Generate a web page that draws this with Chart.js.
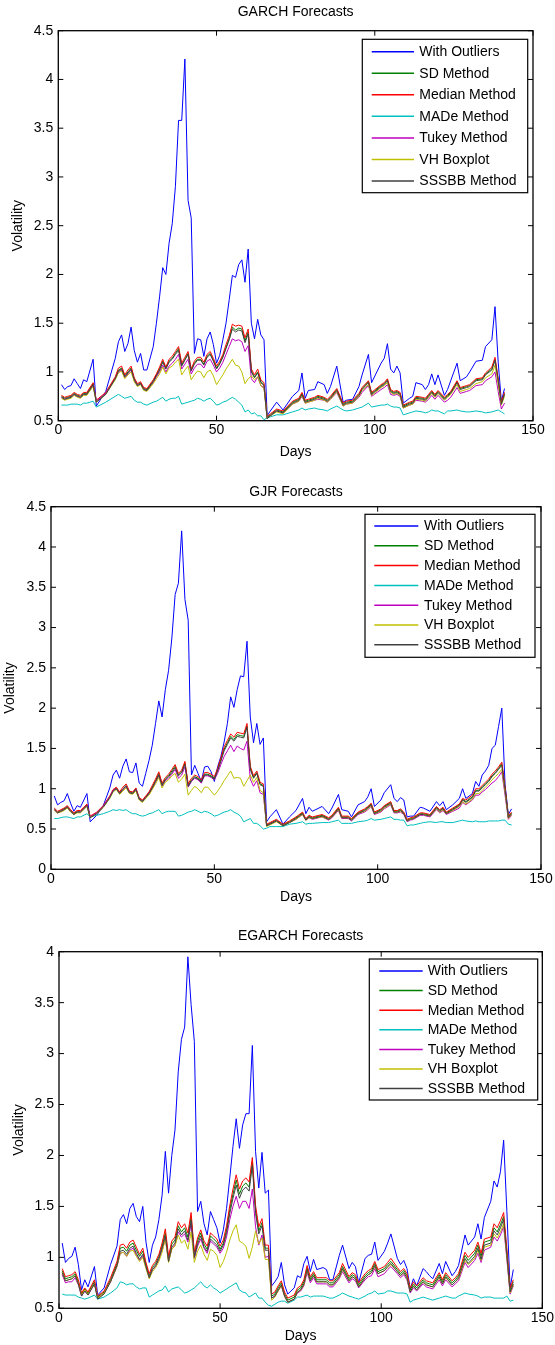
<!DOCTYPE html>
<html>
<head>
<meta charset="utf-8">
<script src="https://cdn.jsdelivr.net/npm/chart.js@4.4.0/dist/chart.umd.min.js"></script>
<style>
body { margin: 0; background: #fff; width: 555px; height: 1345px; position: relative; overflow: hidden; }
.panel { position: absolute; left: 0; width: 555px; }
</style>
</head>
<body>
<div class="panel" style="top:0;height:462px"><canvas id="garch"></canvas></div>
<div class="panel" style="top:462px;height:446px"><canvas id="gjr"></canvas></div>
<div class="panel" style="top:908px;height:437px"><canvas id="egarch"></canvas></div>
<script>
var seriesNames = ["With Outliers", "SD Method", "Median Method", "MADe Method", "Tukey Method", "VH Boxplot", "SSSBB Method"];
var seriesColours = ["#0000ff", "#008000", "#ff0000", "#00bfbf", "#bf00bf", "#bfbf00", "#404040"];

// ---- GARCH ----
var garchDays = [1,2,3,4,5,6,7,8,9, 11,12,15, 18,19,20,21,22,23,24,25,26,27,28,
    30,31,32,33,34,35,36,37,38,39, 40,41,42,43,44,45,46,47,48,49, 50,51,52,53,54,55,56,57,58,59,
    60,61,62,63,64,65,66,67, 69,71,74,76,77,78,79, 81,82,84,85,86,88, 90,91,93,95,96,98,99,
    102,103,104,105,106,107,108,109, 111,112,113,115,116,117,118,119,120, 122,123,124,126,127,129,130,
    132,134,135,137,138,139,140,141];
var garchOutliers = [0.87,0.82,0.85,0.86,0.93,0.88,0.83,0.92,0.90, 1.13,0.65,0.80,
    1.14,1.31,1.38,1.21,1.29,1.46,1.22,1.10,1.19,1.02,1.02,
    1.26,1.50,1.77,2.07,2.00,2.32,2.52,2.90,3.58,3.58, 4.21,2.76,2.58,1.19,1.34,1.33,1.16,1.34,1.41,1.28,
    1.09,1.17,1.33,1.50,1.74,1.99,1.97,2.10,2.15,1.92, 2.26,1.50,1.34,1.54,1.38,1.33,0.55,0.60,
    0.69,0.61,0.75,0.81,0.99,0.73,0.81, 0.82,0.90,0.87,0.78,0.85,1.06, 0.69,0.71,0.72,0.85,0.97,1.18,0.89,
    1.09,1.14,1.29,1.03,0.99,1.06,0.99,0.68, 0.73,0.75,0.89,0.87,0.82,0.87,0.98,0.87,0.97,
    0.76,0.82,0.91,1.09,0.91,0.95,1.00, 1.11,1.12,1.26,1.33,1.67,1.10,0.70,0.83];
var garchSD = [0.75,0.73,0.74,0.75,0.78,0.76,0.75,0.78,0.78, 0.88,0.70,0.78,
    0.94,1.02,1.04,0.96,1.00,1.04,0.93,0.87,0.89,0.83,0.82,
    0.91,0.97,1.03,1.11,1.04,1.11,1.14,1.19,1.24,1.07, 1.13,1.19,1.02,1.09,1.13,1.13,1.08,1.16,1.19,1.12,
    1.04,1.09,1.16,1.25,1.34,1.46,1.43,1.45,1.44,1.32, 1.41,1.01,0.95,1.00,0.90,0.87,0.53,0.56,
    0.61,0.59,0.69,0.72,0.78,0.70,0.71, 0.73,0.75,0.73,0.71,0.74,0.82, 0.67,0.69,0.70,0.77,0.83,0.90,0.78,
    0.86,0.88,0.92,0.81,0.79,0.80,0.78,0.65, 0.68,0.69,0.74,0.73,0.72,0.76,0.80,0.76,0.80,
    0.73,0.76,0.79,0.90,0.83,0.85,0.86, 0.92,0.93,0.98,1.03,1.13,0.92,0.68,0.78];
var garchMedian = [0.76,0.74,0.75,0.76,0.79,0.77,0.76,0.79,0.79, 0.89,0.71,0.79,
    0.95,1.04,1.06,0.97,1.02,1.06,0.94,0.88,0.90,0.84,0.83,
    0.92,0.98,1.05,1.13,1.05,1.13,1.16,1.21,1.26,1.09, 1.15,1.21,1.03,1.11,1.15,1.15,1.10,1.18,1.21,1.14,
    1.06,1.11,1.18,1.28,1.37,1.49,1.47,1.48,1.47,1.35, 1.44,1.03,0.97,1.03,0.92,0.89,0.54,0.57,
    0.62,0.60,0.70,0.73,0.79,0.71,0.72, 0.74,0.76,0.74,0.72,0.75,0.83, 0.68,0.70,0.71,0.78,0.84,0.91,0.79,
    0.87,0.89,0.93,0.82,0.80,0.81,0.79,0.66, 0.69,0.70,0.75,0.74,0.73,0.77,0.81,0.77,0.81,
    0.74,0.77,0.80,0.91,0.84,0.86,0.87, 0.93,0.94,0.99,1.05,1.15,0.93,0.69,0.79];
var garchMADe = [0.66,0.66,0.66,0.67,0.67,0.67,0.66,0.68,0.68, 0.70,0.64,0.69,
    0.75,0.77,0.75,0.73,0.74,0.75,0.71,0.69,0.69,0.67,0.66,
    0.69,0.70,0.72,0.74,0.70,0.72,0.73,0.73,0.75,0.67, 0.68,0.69,0.70,0.71,0.73,0.72,0.70,0.72,0.73,0.70,
    0.66,0.67,0.69,0.70,0.72,0.74,0.72,0.69,0.66,0.59, 0.61,0.57,0.58,0.55,0.55,0.51,0.53,0.54,
    0.56,0.56,0.59,0.61,0.63,0.61,0.62, 0.63,0.62,0.61,0.60,0.62,0.65, 0.61,0.60,0.61,0.63,0.64,0.68,0.64,
    0.66,0.66,0.67,0.65,0.64,0.64,0.63,0.56, 0.58,0.59,0.60,0.59,0.58,0.59,0.61,0.60,0.60,
    0.57,0.60,0.60,0.61,0.60,0.59,0.59, 0.60,0.59,0.58,0.59,0.60,0.61,0.59,0.57];
var garchTukey = [0.74,0.72,0.73,0.74,0.77,0.75,0.74,0.77,0.77, 0.86,0.70,0.78,
    0.93,1.00,1.02,0.94,0.98,1.02,0.91,0.86,0.88,0.82,0.81,
    0.89,0.95,1.00,1.07,1.00,1.06,1.09,1.13,1.18,1.03, 1.08,1.13,0.98,1.04,1.08,1.08,1.04,1.11,1.13,1.07,
    1.00,1.04,1.10,1.18,1.26,1.34,1.32,1.33,1.31,1.21, 1.27,0.93,0.89,0.95,0.86,0.84,0.52,0.55,
    0.60,0.58,0.67,0.70,0.75,0.68,0.69, 0.71,0.72,0.71,0.69,0.72,0.79, 0.65,0.67,0.68,0.74,0.79,0.86,0.75,
    0.82,0.84,0.87,0.77,0.76,0.77,0.75,0.63, 0.66,0.67,0.71,0.70,0.69,0.72,0.76,0.72,0.76,
    0.69,0.71,0.74,0.84,0.78,0.80,0.81, 0.86,0.87,0.91,0.95,1.00,0.80,0.62,0.68];
var garchVH = [0.73,0.71,0.72,0.73,0.76,0.74,0.73,0.76,0.76, 0.85,0.69,0.77,
    0.92,0.99,1.01,0.93,0.97,1.00,0.90,0.85,0.87,0.81,0.80,
    0.88,0.93,0.98,1.05,0.98,1.04,1.06,1.10,1.13,0.97, 1.02,1.06,0.92,0.97,1.01,1.00,0.94,1.00,1.02,0.96,
    0.87,0.92,0.97,1.03,1.08,1.13,1.07,1.06,1.00,0.88, 0.93,0.96,0.92,0.95,0.86,0.83,0.52,0.55,
    0.59,0.57,0.67,0.70,0.76,0.68,0.69, 0.71,0.73,0.71,0.69,0.72,0.80, 0.65,0.67,0.68,0.75,0.81,0.87,0.76,
    0.84,0.86,0.89,0.79,0.77,0.78,0.76,0.63, 0.66,0.67,0.72,0.71,0.70,0.74,0.78,0.74,0.78,
    0.71,0.74,0.77,0.87,0.80,0.82,0.83, 0.88,0.90,0.94,0.98,1.07,0.87,0.66,0.75];
var garchSSSBB = [0.74,0.72,0.73,0.74,0.77,0.75,0.74,0.77,0.77, 0.87,0.69,0.77,
    0.93,1.01,1.03,0.95,0.99,1.03,0.92,0.86,0.88,0.82,0.81,
    0.90,0.96,1.02,1.10,1.03,1.10,1.13,1.18,1.22,1.06, 1.12,1.18,1.01,1.08,1.12,1.12,1.07,1.15,1.18,1.11,
    1.03,1.08,1.15,1.24,1.33,1.44,1.41,1.43,1.42,1.30, 1.39,1.00,0.94,0.99,0.89,0.86,0.52,0.55,
    0.60,0.58,0.68,0.71,0.77,0.69,0.70, 0.72,0.74,0.72,0.70,0.73,0.81, 0.66,0.68,0.69,0.76,0.82,0.89,0.77,
    0.85,0.87,0.91,0.80,0.78,0.79,0.77,0.64, 0.67,0.68,0.73,0.72,0.71,0.75,0.79,0.75,0.79,
    0.72,0.75,0.78,0.89,0.82,0.84,0.85, 0.91,0.92,0.97,1.02,1.12,0.91,0.67,0.77];

// ---- GJR ----
var gjrDays = [1,2,3,4,5,6,7,8,9, 11,12,14,16, 18,19,20,21,22,23,24,25,26,27, 28,29,30,31,32,33,34,35,36,37,
    38,39,40,41,42,43,44,45,46,47, 48,49,50,51,52,53,54,55,56,57, 58,59,60,61,62,63,64,65,66,67,
    69,71,73,75,77,78,79,80, 83,85,86,88,89,91,92,94, 96,97,98,99,101,102,104, 105,106,107,108,109,110,111,
    113,114,116,118,119,120,121,123, 125,126,127,129,130,131,132,133, 134,135,136,137,138,139,140,141];
var gjrOutliers = [0.91,0.80,0.83,0.85,0.94,0.82,0.72,0.79,0.77, 0.94,0.59,0.67,0.79,
    1.01,1.17,1.23,1.13,1.28,1.37,1.21,1.20,1.32,1.07, 1.03,1.19,1.35,1.54,1.81,2.09,1.89,2.23,2.47,2.87,
    3.41,3.55,4.20,3.35,3.09,1.17,1.29,1.19,1.09,1.27, 1.28,1.21,1.09,1.27,1.40,1.58,1.81,2.14,2.01,2.23,
    2.40,2.39,2.83,1.89,1.57,1.81,1.55,1.63,0.59,0.65,
    0.74,0.56,0.65,0.73,0.88,0.69,0.77,0.72, 0.78,0.69,0.76,0.93,0.74,0.72,0.65,0.80,
    0.84,0.90,1.00,0.78,0.86,0.95,1.05, 0.88,0.84,0.89,0.86,0.65,0.66,0.66,
    0.77,0.76,0.72,0.84,0.79,0.84,0.74,0.80, 0.88,1.00,0.88,0.94,1.09,1.03,1.17,1.22,
    1.29,1.50,1.54,1.77,2.00,1.05,0.68,0.75];
var gjrSD = [0.75,0.71,0.73,0.75,0.78,0.73,0.69,0.72,0.72, 0.80,0.65,0.70,0.78,
    0.90,0.98,1.01,0.95,1.00,1.04,0.96,0.95,1.00,0.88, 0.85,0.90,0.95,1.02,1.10,1.19,1.05,1.12,1.16,1.22,
    1.28,1.17,1.21,1.32,1.04,1.11,1.15,1.13,1.09,1.18, 1.18,1.16,1.13,1.23,1.36,1.49,1.57,1.65,1.61,1.67,
    1.66,1.65,1.78,1.26,1.14,1.20,1.06,1.04,0.55,0.57,
    0.61,0.55,0.59,0.64,0.70,0.62,0.66,0.64, 0.67,0.63,0.66,0.76,0.65,0.65,0.62,0.70,
    0.74,0.77,0.81,0.70,0.74,0.78,0.83, 0.72,0.72,0.74,0.70,0.61,0.63,0.64,
    0.69,0.69,0.67,0.77,0.73,0.76,0.70,0.75, 0.80,0.87,0.84,0.90,0.98,0.98,1.02,1.06,
    1.10,1.16,1.20,1.25,1.31,1.00,0.65,0.70];
var gjrMedian = [0.76,0.72,0.74,0.76,0.79,0.74,0.70,0.73,0.73, 0.81,0.66,0.71,0.79,
    0.91,0.99,1.02,0.96,1.02,1.06,0.97,0.96,1.01,0.89, 0.86,0.91,0.96,1.04,1.12,1.21,1.07,1.14,1.18,1.24,
    1.30,1.19,1.23,1.34,1.06,1.13,1.17,1.15,1.11,1.20, 1.20,1.18,1.15,1.25,1.38,1.52,1.60,1.68,1.64,1.70,
    1.69,1.68,1.81,1.28,1.16,1.22,1.08,1.06,0.56,0.58,
    0.62,0.56,0.60,0.65,0.71,0.63,0.67,0.65, 0.68,0.64,0.67,0.77,0.66,0.66,0.63,0.71,
    0.75,0.78,0.82,0.71,0.75,0.79,0.84, 0.73,0.73,0.75,0.71,0.62,0.64,0.65,
    0.70,0.70,0.68,0.78,0.74,0.77,0.71,0.76, 0.81,0.88,0.86,0.92,1.00,1.00,1.04,1.08,
    1.12,1.18,1.22,1.27,1.33,1.02,0.66,0.71];
var gjrMADe = [0.63,0.63,0.64,0.65,0.65,0.64,0.63,0.65,0.65, 0.69,0.65,0.67,0.69,
    0.72,0.74,0.73,0.74,0.73,0.74,0.71,0.69,0.69,0.67, 0.66,0.67,0.69,0.70,0.72,0.74,0.69,0.71,0.72,0.72,
    0.72,0.66,0.67,0.69,0.71,0.72,0.74,0.72,0.70,0.72, 0.71,0.69,0.66,0.67,0.69,0.71,0.72,0.74,0.71,0.69,
    0.66,0.59,0.61,0.63,0.57,0.57,0.54,0.50,0.51,0.53,
    0.53,0.53,0.56,0.57,0.59,0.56,0.57,0.57, 0.58,0.58,0.59,0.61,0.57,0.57,0.57,0.59,
    0.60,0.61,0.63,0.61,0.62,0.63,0.65, 0.62,0.62,0.61,0.61,0.54,0.55,0.55,
    0.57,0.58,0.59,0.58,0.59,0.59,0.58,0.58, 0.60,0.61,0.60,0.59,0.60,0.59,0.59,0.59,
    0.60,0.60,0.60,0.60,0.61,0.61,0.56,0.55];
var gjrTukey = [0.74,0.70,0.72,0.74,0.77,0.72,0.68,0.71,0.71, 0.79,0.65,0.70,0.78,
    0.90,0.98,1.00,0.94,0.99,1.03,0.95,0.94,0.99,0.87, 0.84,0.89,0.94,1.00,1.08,1.16,1.03,1.10,1.13,1.18,
    1.24,1.13,1.17,1.27,1.02,1.09,1.13,1.11,1.07,1.16, 1.16,1.14,1.11,1.19,1.30,1.40,1.47,1.54,1.46,1.53,
    1.50,1.48,1.59,1.12,1.03,1.10,0.95,0.93,0.54,0.56,
    0.60,0.54,0.58,0.62,0.68,0.61,0.64,0.62, 0.65,0.61,0.64,0.73,0.63,0.63,0.60,0.68,
    0.71,0.74,0.78,0.68,0.71,0.75,0.80, 0.70,0.70,0.71,0.68,0.59,0.61,0.62,
    0.67,0.67,0.65,0.74,0.70,0.73,0.68,0.72, 0.76,0.83,0.80,0.86,0.92,0.92,0.96,0.99,
    1.03,1.07,1.10,1.15,1.21,0.92,0.62,0.67];
var gjrVH = [0.73,0.70,0.71,0.73,0.76,0.71,0.68,0.70,0.70, 0.78,0.64,0.69,0.77,
    0.88,0.96,0.99,0.93,0.97,1.01,0.94,0.93,0.97,0.86, 0.83,0.88,0.92,0.99,1.06,1.14,1.01,1.08,1.11,1.16,
    1.19,1.08,1.12,1.18,0.92,0.98,1.03,1.00,0.95,1.02, 1.02,0.97,0.92,0.97,1.03,1.10,1.16,1.22,1.13,1.14,
    1.13,1.03,1.10,1.17,1.08,1.14,0.98,0.95,0.53,0.55,
    0.59,0.54,0.58,0.62,0.68,0.61,0.64,0.63, 0.65,0.62,0.65,0.74,0.64,0.64,0.61,0.69,
    0.72,0.75,0.79,0.69,0.72,0.76,0.81, 0.71,0.71,0.72,0.69,0.60,0.62,0.63,
    0.68,0.68,0.66,0.75,0.71,0.74,0.69,0.73, 0.78,0.84,0.81,0.87,0.94,0.94,0.98,1.02,
    1.06,1.11,1.15,1.19,1.24,0.96,0.63,0.68];
var gjrSSSBB = [0.74,0.70,0.72,0.74,0.77,0.72,0.68,0.71,0.71, 0.79,0.64,0.69,0.77,
    0.89,0.97,1.00,0.94,0.99,1.03,0.95,0.94,0.99,0.87, 0.84,0.89,0.94,1.01,1.09,1.17,1.04,1.11,1.15,1.20,
    1.26,1.16,1.20,1.30,1.03,1.10,1.14,1.12,1.08,1.17, 1.17,1.15,1.12,1.22,1.34,1.47,1.55,1.63,1.59,1.65,
    1.64,1.63,1.76,1.24,1.13,1.19,1.05,1.03,0.54,0.56,
    0.60,0.54,0.58,0.63,0.69,0.61,0.65,0.63, 0.66,0.62,0.65,0.75,0.64,0.64,0.61,0.69,
    0.73,0.76,0.80,0.69,0.73,0.77,0.82, 0.71,0.71,0.73,0.69,0.60,0.62,0.63,
    0.68,0.68,0.66,0.76,0.72,0.75,0.69,0.74, 0.79,0.86,0.83,0.89,0.97,0.97,1.01,1.05,
    1.09,1.15,1.19,1.24,1.29,0.99,0.64,0.69];

// ---- EGARCH ----
var egarchDays = [1,2,3,4,5,6,7,8,9, 11,12,14,16, 18,19,20,21,22,23,24,25,26,27, 28,29,30,31,32,33,34,35,36,37,
    38,39,40,41,42,43,44,45,46,47, 48,49,50,51,52,53,54,55,56,57, 58,59,60,61,62,63,64,65,66,67,
    68,69,70,71,73,74,75,76, 77,78,79,80,82,83,84,85, 87,88,90,91,92,93,95,96, 97,98,99,101,102,103,105,106,
    107,108,109,110,111,113,114,115, 116,118,119,120,122,123,124,126, 127,129,130,131,132,134,135,136,
    137,138,139,140,141];
var egarchOutliers = [1.14,0.95,0.99,1.01,1.10,0.93,0.68,0.78,0.71, 0.91,0.63,0.70,0.93,
    1.11,1.37,1.42,1.33,1.48,1.53,1.40,1.35,1.50,1.15, 0.95,1.12,1.20,1.37,1.61,2.04,1.63,2.00,2.25,2.82,
    3.14,3.26,3.95,3.48,3.12,1.45,1.55,1.33,1.22,1.45, 1.37,1.29,1.14,1.27,1.48,1.78,2.09,2.36,2.07,2.30,
    2.41,2.41,3.08,2.04,1.68,2.03,1.63,1.66,0.72,0.76,
    0.81,0.95,0.73,0.64,0.70,0.82,0.80,0.94, 1.01,0.86,0.98,0.88,0.90,0.88,0.78,0.78,
    1.02,1.12,0.89,0.95,0.91,0.75,0.99,1.02, 1.03,1.15,0.97,1.06,1.14,1.23,0.99,0.93,
    0.97,0.89,0.69,0.79,0.72,0.89,0.86,0.82, 0.79,0.94,0.84,0.96,0.82,0.86,0.92,1.22,
    1.12,1.20,1.33,1.18,1.39,1.55,1.75,1.69, 1.84,2.15,1.45,0.70,0.88];
var egarchSD = [0.87,0.79,0.80,0.81,0.84,0.76,0.64,0.69,0.65, 0.76,0.61,0.66,0.78,
    0.94,1.09,1.10,1.06,1.12,1.14,1.07,1.01,1.06,0.93, 0.82,0.90,0.94,1.01,1.11,1.24,0.98,1.13,1.17,1.31,
    1.25,1.29,1.20,1.40,1.02,1.16,1.24,1.13,1.08,1.21, 1.18,1.15,1.08,1.14,1.27,1.47,1.62,1.76,1.62,1.70,
    1.73,1.69,1.94,1.47,1.26,1.34,1.09,1.09,0.62,0.64,
    0.70,0.75,0.64,0.58,0.61,0.68,0.70,0.76, 0.90,0.79,0.84,0.78,0.78,0.78,0.75,0.75,
    0.83,0.91,0.79,0.83,0.81,0.73,0.82,0.85, 0.87,0.94,0.86,0.89,0.93,0.96,0.88,0.84,
    0.87,0.82,0.68,0.74,0.70,0.78,0.75,0.74, 0.73,0.83,0.76,0.83,0.75,0.78,0.82,1.02,
    0.97,1.04,1.12,1.01,1.15,1.17,1.29,1.25, 1.32,1.40,1.05,0.68,0.76];
var egarchMedian = [0.89,0.81,0.82,0.83,0.86,0.78,0.65,0.70,0.66, 0.78,0.62,0.67,0.80,
    0.96,1.12,1.13,1.09,1.15,1.17,1.10,1.03,1.09,0.95, 0.84,0.92,0.96,1.03,1.14,1.28,1.01,1.16,1.20,1.35,
    1.29,1.33,1.24,1.44,1.05,1.19,1.27,1.16,1.11,1.24, 1.21,1.18,1.11,1.17,1.31,1.51,1.67,1.81,1.67,1.75,
    1.78,1.74,1.98,1.51,1.30,1.38,1.12,1.12,0.64,0.66,
    0.72,0.77,0.66,0.60,0.63,0.70,0.72,0.78, 0.92,0.81,0.86,0.80,0.80,0.80,0.77,0.77,
    0.85,0.94,0.81,0.85,0.83,0.75,0.84,0.87, 0.89,0.96,0.88,0.91,0.95,0.99,0.90,0.86,
    0.89,0.84,0.70,0.76,0.72,0.80,0.77,0.76, 0.75,0.85,0.78,0.85,0.77,0.80,0.84,1.05,
    1.00,1.07,1.15,1.04,1.18,1.20,1.33,1.29, 1.36,1.44,1.08,0.70,0.78];
var egarchMADe = [0.64,0.63,0.63,0.63,0.63,0.61,0.60,0.59,0.60, 0.63,0.59,0.61,0.65,
    0.70,0.76,0.75,0.73,0.74,0.74,0.71,0.69,0.70,0.70, 0.61,0.63,0.65,0.67,0.68,0.72,0.66,0.69,0.70,0.71,
    0.68,0.65,0.66,0.68,0.70,0.73,0.76,0.72,0.70,0.73, 0.70,0.68,0.65,0.67,0.69,0.71,0.73,0.75,0.68,0.66,
    0.65,0.61,0.63,0.65,0.60,0.60,0.56,0.53,0.52,0.54,
    0.56,0.57,0.57,0.55,0.58,0.61,0.61,0.62, 0.63,0.61,0.62,0.62,0.62,0.61,0.60,0.60,
    0.63,0.65,0.62,0.61,0.60,0.59,0.62,0.64, 0.65,0.67,0.64,0.65,0.67,0.67,0.65,0.65,
    0.65,0.64,0.56,0.58,0.59,0.61,0.60,0.59, 0.58,0.60,0.61,0.62,0.60,0.60,0.62,0.65,
    0.64,0.63,0.62,0.60,0.61,0.61,0.60,0.60, 0.60,0.60,0.62,0.57,0.58];
var egarchTukey = [0.83,0.75,0.76,0.76,0.80,0.73,0.62,0.67,0.63, 0.74,0.60,0.65,0.76,
    0.91,1.04,1.05,1.01,1.07,1.09,1.02,0.97,1.01,0.90, 0.80,0.88,0.91,0.98,1.07,1.19,0.96,1.08,1.12,1.25,
    1.20,1.23,1.15,1.33,0.99,1.11,1.18,1.09,1.04,1.16, 1.13,1.10,1.04,1.09,1.20,1.37,1.50,1.60,1.48,1.55,
    1.55,1.48,1.67,1.30,1.12,1.22,1.00,1.01,0.60,0.62,
    0.67,0.72,0.62,0.56,0.59,0.65,0.67,0.72, 0.85,0.75,0.80,0.74,0.74,0.74,0.71,0.71,
    0.79,0.86,0.75,0.79,0.77,0.70,0.78,0.81, 0.82,0.89,0.81,0.84,0.88,0.91,0.84,0.80,
    0.83,0.78,0.65,0.70,0.67,0.74,0.71,0.70, 0.69,0.78,0.72,0.78,0.71,0.74,0.77,0.95,
    0.90,0.97,1.04,0.95,1.07,1.10,1.20,1.16, 1.22,1.30,0.98,0.64,0.72];
var egarchVH = [0.85,0.77,0.78,0.79,0.82,0.74,0.63,0.68,0.64, 0.74,0.60,0.65,0.76,
    0.91,1.04,1.05,1.01,1.06,1.07,1.01,0.96,1.00,0.89, 0.79,0.86,0.90,0.96,1.05,1.18,0.95,1.08,1.11,1.22,
    1.14,1.17,1.08,1.25,0.95,1.06,1.12,1.03,0.97,1.08, 1.06,1.02,0.90,0.96,1.05,1.17,1.26,1.32,1.16,1.14,
    1.11,0.99,1.10,1.26,1.13,1.19,0.98,0.98,0.58,0.61,
    0.67,0.72,0.62,0.56,0.59,0.66,0.68,0.73, 0.87,0.77,0.82,0.76,0.76,0.76,0.73,0.73,
    0.80,0.88,0.77,0.81,0.79,0.71,0.80,0.83, 0.85,0.91,0.84,0.87,0.90,0.93,0.86,0.82,
    0.85,0.80,0.66,0.72,0.68,0.76,0.73,0.72, 0.71,0.80,0.74,0.80,0.73,0.76,0.79,0.97,
    0.93,0.99,1.07,0.97,1.10,1.12,1.23,1.19, 1.25,1.33,1.00,0.65,0.73];
var egarchSSSBB = [0.85,0.77,0.78,0.79,0.82,0.74,0.62,0.67,0.63, 0.74,0.59,0.64,0.76,
    0.92,1.06,1.07,1.03,1.09,1.11,1.04,0.98,1.03,0.91, 0.80,0.88,0.92,0.99,1.09,1.21,0.96,1.10,1.14,1.28,
    1.22,1.26,1.17,1.36,1.00,1.13,1.21,1.10,1.06,1.18, 1.15,1.12,1.06,1.12,1.24,1.43,1.58,1.71,1.58,1.66,
    1.69,1.65,1.90,1.43,1.23,1.31,1.07,1.07,0.60,0.62,
    0.68,0.73,0.62,0.56,0.59,0.66,0.68,0.74, 0.88,0.77,0.82,0.76,0.76,0.76,0.73,0.73,
    0.81,0.89,0.77,0.81,0.79,0.71,0.80,0.83, 0.85,0.92,0.84,0.87,0.91,0.94,0.86,0.82,
    0.85,0.80,0.66,0.72,0.68,0.76,0.73,0.72, 0.71,0.81,0.74,0.81,0.73,0.76,0.80,0.99,
    0.94,1.01,1.09,0.98,1.12,1.14,1.26,1.22, 1.29,1.37,1.02,0.66,0.74];

Chart.defaults.font.family = "'Liberation Sans', Arial, sans-serif";
Chart.defaults.color = "#000";

// box frame, inward ticks on all four sides and a boxed legend inside the axes
var matlabAxes = {
    id: "matlabAxes",
    afterDraw: function (chart, args, opts) {
        var ctx = chart.ctx;
        var a = chart.chartArea;
        var xs = chart.scales.x, ys = chart.scales.y;
        ctx.save();
        ctx.strokeStyle = "#000";
        ctx.lineWidth = 1;
        ctx.beginPath();
        xs.ticks.forEach(function (t) {
            var px = xs.getPixelForValue(t.value);
            ctx.moveTo(px, a.bottom); ctx.lineTo(px, a.bottom - 5);
            ctx.moveTo(px, a.top); ctx.lineTo(px, a.top + 5);
        });
        ys.ticks.forEach(function (t) {
            var py = ys.getPixelForValue(t.value);
            ctx.moveTo(a.left, py); ctx.lineTo(a.left + 5, py);
            ctx.moveTo(a.right, py); ctx.lineTo(a.right - 5, py);
        });
        ctx.stroke();
        ctx.lineWidth = 1.3;
        ctx.strokeRect(a.left, a.top, a.right - a.left, a.bottom - a.top);

        // legend
        var lg = opts.legend;
        ctx.fillStyle = "#fff";
        ctx.fillRect(lg.x1, lg.y1, lg.x2 - lg.x1, lg.y2 - lg.y1);
        ctx.lineWidth = 1.2;
        ctx.strokeRect(lg.x1, lg.y1, lg.x2 - lg.x1, lg.y2 - lg.y1);
        ctx.font = "14px 'Liberation Sans', Arial, sans-serif";
        ctx.textBaseline = "middle";
        ctx.textAlign = "left";
        chart.data.datasets.forEach(function (ds, i) {
            var y = lg.row0 + i * lg.rowGap;
            ctx.strokeStyle = ds.borderColor;
            ctx.lineWidth = 1.5;
            ctx.beginPath();
            ctx.moveTo(lg.lineX1, y); ctx.lineTo(lg.lineX2, y);
            ctx.stroke();
            ctx.fillStyle = "#000";
            ctx.fillText(ds.label, lg.textX, y + 0.5);
        });
        ctx.restore();
    }
};

function makePanel(id, title, days, series, yMin, yMax, box) {
    var datasets = series.map(function (vals, i) {
        return {
            label: seriesNames[i],
            data: days.map(function (d, k) { return {x: d, y: vals[k]}; }),
            borderColor: seriesColours[i],
            backgroundColor: seriesColours[i],
            borderWidth: 1,
            pointRadius: 0,
            tension: 0,
            fill: false,
            order: series.length - i
        };
    });
    return new Chart(document.getElementById(id), {
        type: "line",
        data: {datasets: datasets},
        options: {
            responsive: true,
            maintainAspectRatio: false,
            animation: false,
            layout: {padding: {left: 0, right: 555 - box.right, top: 0, bottom: 0}},
            plugins: {
                legend: {display: false},
                tooltip: {enabled: false},
                title: {
                    display: true, text: title, color: "#000", fullSize: false,
                    font: {size: 14, weight: "normal"},
                    padding: {top: box.titleTop, bottom: box.titleBottom}
                },
                matlabAxes: {legend: box.legend}
            },
            scales: {
                x: {
                    type: "linear", min: 0, max: 150,
                    ticks: {stepSize: 50, font: {size: 14}, padding: 1, maxRotation: 0},
                    grid: {display: false, drawTicks: false},
                    border: {display: false},
                    title: {display: true, text: "Days", font: {size: 14}, padding: {top: 0, bottom: box.daysPad}},
                    afterFit: function (s) { s.height = box.height - box.bottom; }
                },
                y: {
                    min: yMin, max: yMax,
                    ticks: {
                        stepSize: 0.5, font: {size: 14}, padding: 5,
                        callback: function (v) { return String(Math.round(v * 10) / 10); }
                    },
                    grid: {display: false, drawTicks: false},
                    border: {display: false},
                    title: {display: true, text: "Volatility", font: {size: 14}, padding: {top: box.volPad, bottom: 0}},
                    afterFit: function (s) { s.width = box.left; }
                }
            }
        },
        plugins: [matlabAxes]
    });
}

makePanel("garch", "GARCH Forecasts", garchDays,
    [garchOutliers, garchSD, garchMedian, garchMADe, garchTukey, garchVH, garchSSSBB], 0.5, 4.5,
    {height: 462, left: 58.3, right: 533, bottom: 420.7, titleTop: 3.6, titleBottom: 10.3, daysPad: 1.6, volPad: 10.1,
     legend: {x1: 362.3, y1: 39.3, x2: 527.7, y2: 192.7, row0: 51.7, rowGap: 21.55, lineX1: 371.7, lineX2: 414, textX: 419.3}});

makePanel("gjr", "GJR Forecasts", gjrDays,
    [gjrOutliers, gjrSD, gjrMedian, gjrMADe, gjrTukey, gjrVH, gjrSSSBB], 0, 4.5,
    {height: 446, left: 51, right: 541, bottom: 407.3, titleTop: 21.3, titleBottom: 6.6, daysPad: 2.1, volPad: 1.6,
     legend: {x1: 365, y1: 52.3, x2: 535, y2: 195.3, row0: 64, rowGap: 19.8, lineX1: 374.3, lineX2: 418.3, textX: 424}});

makePanel("egarch", "EGARCH Forecasts", egarchDays,
    [egarchOutliers, egarchSD, egarchMedian, egarchMADe, egarchTukey, egarchVH, egarchSSSBB], 0.5, 4,
    {height: 437, left: 59, right: 544, bottom: 400.3, titleTop: 19.3, titleBottom: 7.6, daysPad: 0, volPad: 10.4,
     legend: {x1: 369.3, y1: 51, x2: 537.7, y2: 192, row0: 63, rowGap: 19.6, lineX1: 379.3, lineX2: 422.7, textX: 427.7}});
</script>
</body>
</html>
